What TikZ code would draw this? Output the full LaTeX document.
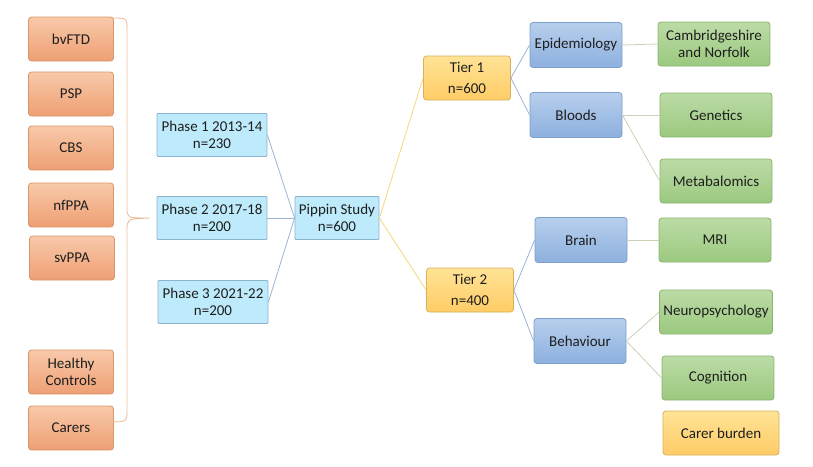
\documentclass[tikz,border=0pt]{standalone}
\usepackage{fontspec}
\setmainfont{Carlito}
\definecolor{orangetop}{HTML}{F8C9AA}
\definecolor{orangebot}{HTML}{EE9F73}
\definecolor{orangeline}{HTML}{D9966C}
\definecolor{phasefill}{HTML}{BDEBFB}
\definecolor{phaseline}{HTML}{8FB3CF}
\definecolor{tiertop}{HTML}{FFE396}
\definecolor{tierbot}{HTML}{FFCC66}
\definecolor{tierline}{HTML}{D8B05C}
\definecolor{bluetop}{HTML}{B7CFEC}
\definecolor{bluebot}{HTML}{8DB0DF}
\definecolor{blueline}{HTML}{7E9FCB}
\definecolor{greentop}{HTML}{BCDBA6}
\definecolor{greenbot}{HTML}{9BC97F}
\definecolor{greenline}{HTML}{8BB46F}
\definecolor{linkblue}{HTML}{9DB3D6}
\definecolor{linkyellow}{HTML}{F5D77A}
\definecolor{linkgreen}{HTML}{C8D3B4}
\definecolor{bracecol}{HTML}{EBBE9C}
\definecolor{textcol}{HTML}{1E1E1E}

\begin{document}
\begin{tikzpicture}[x=1pt,y=-1pt,
    box/.style={rounded corners=3pt, line width=0.8pt, align=center, inner sep=1pt,
                text=textcol, font=\fontsize{15}{17}\selectfont},
    group/.style={box, draw=orangeline, top color=orangetop, bottom color=orangebot,
                  minimum width=85pt, minimum height=44pt},
    phase/.style={box, rounded corners=1pt, draw=phaseline, fill=phasefill,
                  minimum width=110pt, minimum height=43pt},
    tier/.style={box, draw=tierline, top color=tiertop, bottom color=tierbot,
                 minimum width=87pt, minimum height=44pt},
    area/.style={box, draw=blueline, top color=bluetop, bottom color=bluebot,
                 minimum width=92pt, minimum height=45pt},
    measure/.style={box, draw=greenline, top color=greentop, bottom color=greenbot,
                    minimum width=112pt, minimum height=44pt},
    link/.style={line width=0.8pt}]
    \useasboundingbox (0,0) rectangle (813,466);

    % patient groups
    \node[group] (bvftd) at (71,39) {bvFTD};
    \node[group] (psp) at (71,94) {PSP};
    \node[group] (cbs) at (71,148) {CBS};
    \node[group] (nfppa) at (71,205) {nfPPA};
    \node[group] (svppa) at (72,258) {svPPA};
    \node[group] (controls) at (71,372) {Healthy\\Controls};
    \node[group] (carers) at (71,428) {Carers};

    \node[phase] (phase1) at (212,135) {Phase 1 2013-14\\n=230};
    \node[phase] (phase2) at (212,218) {Phase 2 2017-18\\n=200};
    \node[phase] (phase3) at (213,302) {Phase 3 2021-22\\n=200};
    \node[phase, minimum width=84pt] (pippin) at (337,218) {Pippin Study\\n=600};

    \node[tier] (tier1) at (467,78) {Tier 1\\[4pt]n=600};
    \node[tier] (tier2) at (470,290) {Tier 2\\[4pt]n=400};

    \node[area] (epi) at (576,45) {Epidemiology};
    \node[area] (bloods) at (576,115) {Bloods};
    \node[area] (brain) at (581,240) {Brain};
    \node[area] (behav) at (580,341) {Behaviour};

    \node[measure] (cambs) at (714,44) {Cambridgeshire\\and Norfolk};
    \node[measure] (genetics) at (716,115) {Genetics};
    \node[measure] (metab) at (716,181) {Metabalomics};
    \node[measure] (mri) at (715,240) {MRI};
    \node[measure, minimum width=113pt] (neuro) at (716,312) {Neuropsychology};
    \node[measure] (cog) at (718,378) {Cognition};
    \node[tier, minimum width=116pt] (burden) at (721,433) {Carer burden};

    % brace round the groups
    \coordinate (tip) at (phase2.west -| 150,0);
    \draw[bracecol, line width=0.9pt] (113,18) .. controls (127,18) .. (127,30) -- (127,208)
        .. controls (127,218) .. (tip) .. controls (127,219) .. (127,230) -- (127,410)
        .. controls (127,422) .. (106,422);

    \foreach \p in {phase1,phase2,phase3}
        \draw[link, linkblue] (\p.east) -- (pippin.west);
    \draw[link, linkyellow] (pippin.east) -- (tier1.west);
    \draw[link, linkyellow] (pippin.east) -- (tier2.west);
    \draw[link, linkblue] (tier1.east) -- (epi.west);
    \draw[link, linkblue] (tier1.east) -- (bloods.west);
    \draw[link, linkblue] (tier2.east) -- (brain.west);
    \draw[link, linkblue] (tier2.east) -- (behav.west);
    \draw[link, linkgreen] (epi.east) -- (cambs.west);
    \draw[link, linkgreen] (bloods.east) -- (genetics.west);
    \draw[link, linkgreen] (bloods.east) -- (metab.west);
    \draw[link, linkgreen] (brain.east) -- (mri.west);
    \draw[link, linkgreen] (behav.east) -- (neuro.west);
    \draw[link, linkgreen] (behav.east) -- (cog.west);
\end{tikzpicture}
\end{document}
